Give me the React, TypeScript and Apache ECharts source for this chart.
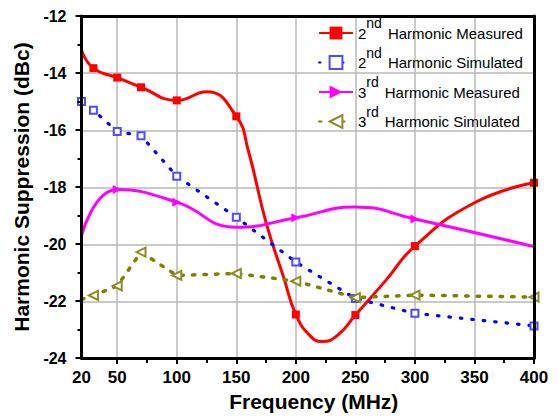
import React, { useEffect, useRef } from "react";
import * as echarts from "echarts";

// 2nd harmonic, measured: frequency (MHz) and suppression (dBc)
const H2M_FREQ = [20, 30, 50, 70, 100, 125, 150, 160, 175, 190, 200, 212, 222, 235, 250, 275, 300, 350, 400];
const H2M_DBC = [-13.2, -13.83, -14.16, -14.5, -14.96, -14.66, -15.52, -16.71, -19.25, -21.2, -22.47, -23.22, -23.42, -23.2, -22.49, -21.3, -20.07, -18.55, -17.85];
const H2M_MARK = [false, true, true, true, true, false, true, false, false, false, true, false, false, false, true, false, true, false, true];

// 2nd harmonic, simulated
const H2S_FREQ = [20, 30, 50, 70, 100, 150, 200, 250, 300, 400];
const H2S_DBC = [-15.0, -15.31, -16.05, -16.2, -17.62, -19.06, -20.63, -21.91, -22.43, -22.87];
const H2S_MARK = [true, true, true, true, true, true, true, true, true, true];

// 3rd harmonic, measured
const H3M_FREQ = [20, 50, 100, 150, 200, 250, 300, 400];
const H3M_DBC = [-19.7, -18.09, -18.53, -19.41, -19.08, -18.7, -19.12, -20.09];
const H3M_MARK = [false, true, true, false, true, false, true, false];

// 3rd harmonic, simulated
const H3S_FREQ = [20, 30, 50, 70, 100, 150, 200, 250, 300, 400];
const H3S_DBC = [-21.94, -21.8, -21.47, -20.28, -21.1, -21.03, -21.3, -21.88, -21.79, -21.86];
const H3S_MARK = [false, true, true, true, true, true, true, true, true, true];

// Axis ticks and labels
const X_LABELS = [20, 50, 100, 150, 200, 250, 300, 350, 400];
const X_MAJOR = [50, 100, 150, 200, 250, 300, 350, 400];
const X_MINOR = [75, 125, 175, 225, 275, 325, 375];
const X_GRID = [50, 100, 150, 200, 250, 300, 350];

const SERIES_NAMES = [
  "2nd Harmonic Measured",
  "2nd Harmonic Simulated",
  "3rd Harmonic Measured",
  "3rd Harmonic Simulated",
];
const LEGEND_RICH: Record<string, string> = {
  "2nd Harmonic Measured": "{b|2}{s|nd}{b|Harmonic Measured}",
  "2nd Harmonic Simulated": "{b|2}{s|nd}{b|Harmonic Simulated}",
  "3rd Harmonic Measured": "{b|3}{s|rd}{b|Harmonic Measured}",
  "3rd Harmonic Simulated": "{b|3}{s|rd}{b|Harmonic Simulated}",
};

const FONT = "'Liberation Sans', Arial, sans-serif";

function points(xs: number[], ys: number[], marks: boolean[]) {
  return xs.map((x, i) => (marks[i] ? [x, ys[i]] : { value: [x, ys[i]], symbol: "none" }));
}

const GRID_BOX = { left: 81.5, right: 25, top: 16, bottom: 58 };

export default function App() {
  const ref = useRef<HTMLDivElement>(null);

  useEffect(() => {
    if (!ref.current) return;
    const chart = echarts.init(ref.current, undefined, { renderer: "svg" });

    const frameLine = { show: true, onZero: false, lineStyle: { color: "#000", width: 3 } };
    const hidden = { show: false };
    const gridLineStyle = { color: "#b8b8b8", width: 1.5 };

    chart.setOption({
      animation: false,
      backgroundColor: "#fff",
      grid: [
        { ...GRID_BOX }, // data + frame
        { ...GRID_BOX }, // grid lines
        { ...GRID_BOX }, // minor x ticks
      ],
      xAxis: [
        {
          gridIndex: 0,
          type: "value",
          min: 20,
          max: 400,
          position: "bottom",
          z: 10,
          axisLine: frameLine,
          axisTick: { show: true, customValues: X_MAJOR, length: 6, lineStyle: { color: "#000", width: 2 } },
          axisLabel: {
            customValues: X_LABELS,
            margin: 11,
            fontSize: 17,
            fontWeight: "bold",
            color: "#000",
            fontFamily: FONT,
          },
          splitLine: hidden,
          name: "Frequency (MHz)",
          nameLocation: "middle",
          nameGap: 29,
          nameTextStyle: { fontSize: 21, fontWeight: "bold", color: "#000", fontFamily: FONT, padding: [0, 0, 0, 12] },
        },
        {
          gridIndex: 0,
          type: "value",
          min: 20,
          max: 400,
          position: "top",
          z: 10,
          axisLine: frameLine,
          axisTick: hidden,
          axisLabel: hidden,
          splitLine: hidden,
        },
        {
          gridIndex: 1,
          type: "value",
          min: 20,
          max: 400,
          position: "bottom",
          z: 0,
          axisLine: hidden,
          axisTick: { show: false, customValues: X_GRID },
          axisLabel: hidden,
          splitLine: { show: true, lineStyle: gridLineStyle },
        },
        {
          gridIndex: 2,
          type: "value",
          min: 20,
          max: 400,
          position: "bottom",
          z: 10,
          axisLine: hidden,
          axisTick: { show: true, customValues: X_MINOR, length: 4, lineStyle: { color: "#000", width: 2 } },
          axisLabel: hidden,
          splitLine: hidden,
        },
      ],
      yAxis: [
        {
          gridIndex: 0,
          type: "value",
          min: -24,
          max: -12,
          interval: 2,
          position: "left",
          z: 10,
          axisLine: frameLine,
          axisTick: { show: true, length: 6, lineStyle: { color: "#000", width: 2 } },
          minorTick: { show: true, splitNumber: 2, length: 4, lineStyle: { color: "#000", width: 2 } },
          axisLabel: { margin: 15, fontSize: 16, fontWeight: "bold", color: "#000", fontFamily: FONT },
          splitLine: hidden,
          name: "Harmonic Suppression (dBc)",
          nameLocation: "middle",
          nameGap: 46,
          nameTextStyle: { fontSize: 21, fontWeight: "bold", color: "#000", fontFamily: FONT },
        },
        {
          gridIndex: 0,
          type: "value",
          min: -24,
          max: -12,
          interval: 2,
          position: "right",
          z: 10,
          axisLine: frameLine,
          axisTick: hidden,
          axisLabel: hidden,
          splitLine: hidden,
        },
        {
          gridIndex: 1,
          type: "value",
          min: -24,
          max: -12,
          interval: 2,
          position: "left",
          z: 0,
          axisLine: hidden,
          axisTick: hidden,
          axisLabel: hidden,
          splitLine: { show: true, lineStyle: gridLineStyle },
        },
        {
          gridIndex: 2,
          type: "value",
          min: -24,
          max: -12,
          interval: 2,
          axisLine: hidden,
          axisTick: hidden,
          axisLabel: hidden,
          splitLine: hidden,
        },
      ],
      legend: {
        data: SERIES_NAMES,
        orient: "vertical",
        left: 313,
        top: 11,
        itemWidth: 34,
        itemHeight: 16,
        itemGap: 5,
        formatter: (name: string) => LEGEND_RICH[name] ?? name,
        textStyle: {
          fontFamily: FONT,
          fontSize: 15,
          color: "#000",
          rich: {
            b: { fontFamily: FONT, fontSize: 15, color: "#000" },
            s: { fontFamily: FONT, fontSize: 14, color: "#000", padding: [-10, 6, 10, 0] },
          },
        },
      },
      series: [
        {
          name: SERIES_NAMES[0],
          type: "line",
          xAxisIndex: 0,
          yAxisIndex: 0,
          smooth: 0.5,
          symbol: "rect",
          symbolSize: 8,
          color: "#ff0000",
          lineStyle: { color: "#ff0000", width: 3 },
          itemStyle: { color: "#ff0000" },
          data: points(H2M_FREQ, H2M_DBC, H2M_MARK),
        },
        {
          name: SERIES_NAMES[1],
          type: "line",
          xAxisIndex: 0,
          yAxisIndex: 0,
          symbol: "emptyRect",
          symbolSize: 7,
          color: "#4d4dff",
          lineStyle: { color: "#0000ff", width: 3.2, type: [1.5, 10], cap: "round" },
          itemStyle: { color: "#4d4dff", borderWidth: 1 },
          data: points(H2S_FREQ, H2S_DBC, H2S_MARK),
        },
        {
          name: SERIES_NAMES[2],
          type: "line",
          xAxisIndex: 0,
          yAxisIndex: 0,
          smooth: 0.5,
          symbol: "triangle",
          symbolRotate: -90,
          symbolSize: 9,
          color: "#ff00ff",
          lineStyle: { color: "#ff00ff", width: 3 },
          itemStyle: { color: "#ff00ff" },
          data: points(H3M_FREQ, H3M_DBC, H3M_MARK),
        },
        {
          name: SERIES_NAMES[3],
          type: "line",
          xAxisIndex: 0,
          yAxisIndex: 0,
          symbol: "emptyTriangle",
          symbolRotate: 90,
          symbolSize: 9,
          color: "#8c8c28",
          lineStyle: { color: "#808000", width: 3.5, type: [2.5, 9], cap: "round" },
          itemStyle: { color: "#8c8c28", borderWidth: 1 },
          data: points(H3S_FREQ, H3S_DBC, H3S_MARK),
        },
      ],
    });

    return () => chart.dispose();
  }, []);

  return <div ref={ref} style={{ width: 559, height: 417, position: "absolute", left: 0, top: 0 }} />;
}
